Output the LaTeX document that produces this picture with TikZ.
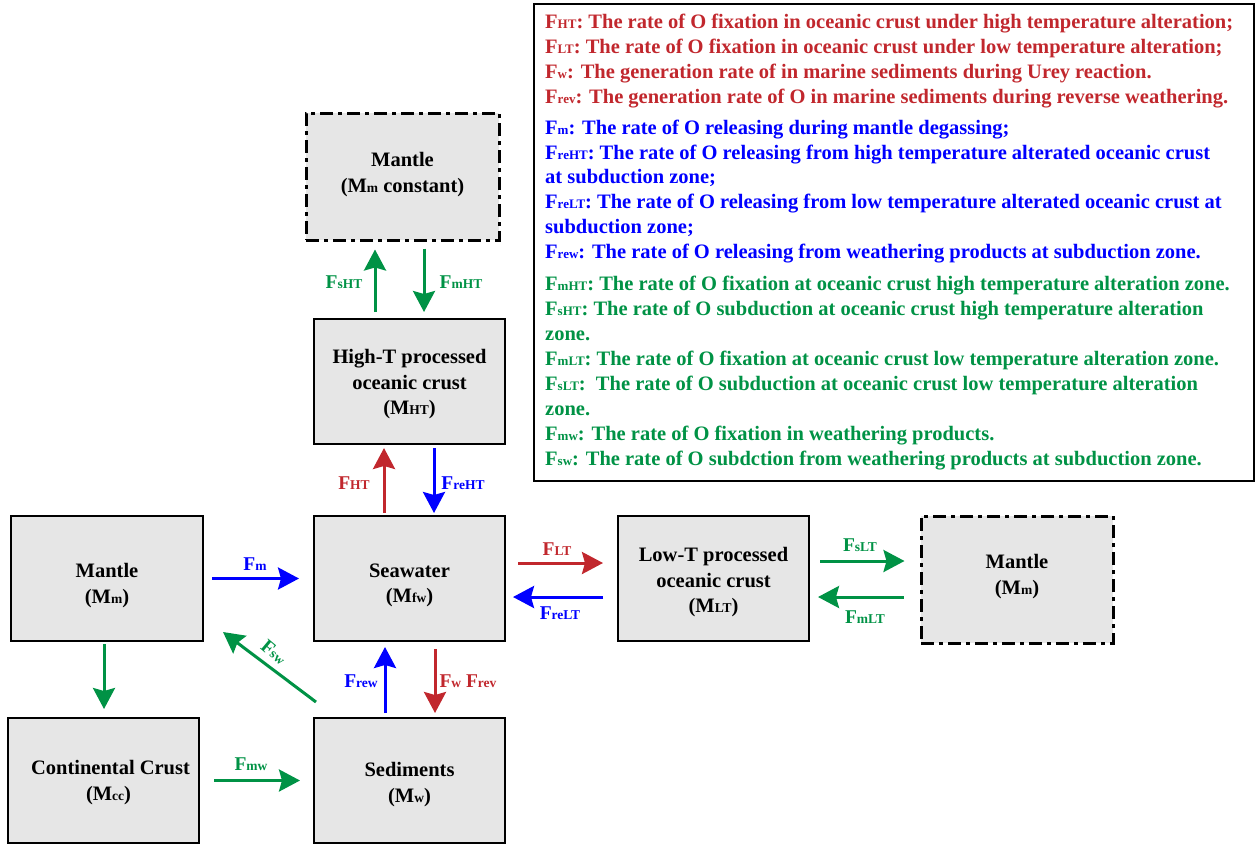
\documentclass[tikz,border=0pt]{standalone}
\usepackage{fontspec}
\setmainfont{Liberation Serif}
\usetikzlibrary{arrows.meta,calc}
\definecolor{cred}{HTML}{C1272D}
\definecolor{cblue}{HTML}{0000FF}
\definecolor{cgreen}{HTML}{009245}
\definecolor{boxgray}{HTML}{E6E6E6}
\newcommand\lo[1]{{\fontsize{13.5}{13.5}\selectfont #1}}
\newcommand\llo[1]{{\fontsize{13}{13}\selectfont #1}}
\begin{document}
\begin{tikzpicture}[x=1pt,y=-1pt,
  font=\bfseries\fontsize{20.5}{25.5}\selectfont,
  box/.style={draw=black,line width=2pt,fill=boxgray,minimum width=191pt,minimum height=125pt,inner sep=0pt},
  dbox/.style={box,line width=3pt,dash pattern=on 13pt off 5pt on 4pt off 5pt},
  btxt/.style={align=center,inner sep=0pt},
  arr/.style={line width=3pt,-{Stealth[length=21pt,width=22pt,inset=3pt]}},
  lbl/.style={inner sep=0pt,font=\bfseries\fontsize{19.5}{20}\selectfont},
  leg/.style={anchor=base west,inner sep=0pt,font=\bfseries\fontsize{20.5}{22}\selectfont}]
\useasboundingbox (0,0) rectangle (1255,847);
% legend
\node[draw=black,line width=1.5pt,minimum width=720pt,minimum height=477pt,anchor=north west,inner sep=0pt] (legend) at (533,3) {};
\begin{scope}[every node/.style={leg}]
\node[text=cred] (r1) at (545,28) {F\llo{HT}: The rate of O fixation in oceanic crust under high temperature alteration;};
\node[text=cred] (r2) at (545,53) {F\llo{LT}: The rate of O fixation in oceanic crust under low temperature alteration;};
\node[text=cred] (r3) at (545,78) {F\llo{w}: The generation rate of in marine sediments during Urey reaction.};
\node[text=cred] (r4) at (545,103) {F\llo{rev}: The generation rate of O in marine sediments during reverse weathering.};
\node[text=cblue] (b1) at (545,134) {F\llo{m}: The rate of O releasing during mantle degassing;};
\node[text=cblue] (b2) at (545,159) {F\llo{reHT}: The rate of O releasing from high temperature alterated oceanic crust};
\node[text=cblue] (b3) at (545,183) {at subduction zone;};
\node[text=cblue] (b4) at (545,208) {F\llo{reLT}: The rate of O releasing from low temperature alterated oceanic crust at};
\node[text=cblue] (b5) at (545,233) {subduction zone;};
\node[text=cblue] (b6) at (545,258) {F\llo{rew}: The rate of O releasing from weathering products at subduction zone.};
\node[text=cgreen] (g1) at (545,290) {F\llo{mHT}: The rate of O fixation at oceanic crust high temperature alteration zone.};
\node[text=cgreen] (g2) at (545,315) {F\llo{sHT}: The rate of O subduction at oceanic crust high temperature alteration};
\node[text=cgreen] (g3) at (545,340) {zone.};
\node[text=cgreen] (g4) at (545,365) {F\llo{mLT}: The rate of O fixation at oceanic crust low temperature alteration zone.};
\node[text=cgreen] (g5) at (545,390) {F\llo{sLT}:\ \ The rate of O subduction at oceanic crust low temperature alteration};
\node[text=cgreen] (g6) at (545,415) {zone.};
\node[text=cgreen] (g7) at (545,440) {F\llo{mw}: The rate of O fixation in weathering products.};
\node[text=cgreen] (g8) at (545,465) {F\llo{sw}: The rate of O subdction from weathering products at subduction zone.};
\end{scope}
% boxes
\node[dbox,minimum width=193pt,minimum height=127pt] (mt) at (402.5,176.5) {};
\node[box] (ht) at (409.5,381.5) {};
\node[box] (sw) at (409.5,578.5) {};
\node[box,minimum width=192pt] (ml) at (107,578.5) {};
\node[box] (lt) at (713.5,578.5) {};
\node[dbox,minimum width=192pt,minimum height=127pt] (mr) at (1017,579.5) {};
\node[box] (cc) at (103.5,780.5) {};
\node[box] (sd) at (409.5,780.5) {};
% box texts (shift in TikZ y: positive is up)
\node[btxt] (mtt) at ([yshift=2]mt.center) {Mantle\\(M\lo{m} constant)};
\node[btxt] (htt) at ([yshift=-3]ht.center) {High-T processed\\oceanic crust\\(M\lo{HT})};
\node[btxt] (swt) at ([yshift=-7]sw.center) {Seawater\\(M\lo{fw})};
\node[btxt] (mlt) at ([yshift=-7]ml.center) {Mantle\\(M\lo{m})};
\node[btxt] (ltt) at ([yshift=-4]lt.center) {Low-T processed\\oceanic crust\\(M\lo{LT})};
\node[btxt] (mrt) at ([yshift=3]mr.center) {Mantle\\(M\lo{m})};
\node[btxt] (cct) at ([xshift=5,yshift=-2]cc.center) {\hspace*{4pt}Continental Crust\\(M\lo{cc})};
\node[btxt] (sdt) at ([yshift=-4]sd.center) {Sediments\\(M\lo{w})};
% arrows
\draw[arr,cgreen] ([shift={(-34.5,-6)}]ht.north) -- ([shift={(-27.5,8)}]mt.south);
\draw[arr,cgreen] ([shift={(21.5,7)}]mt.south) -- ([shift={(14.5,-6)}]ht.north);
\draw[arr,cred] ([shift={(-25.5,-2)}]sw.north) -- ([shift={(-25.5,3)}]ht.south);
\draw[arr,cblue] ([shift={(24.5,3)}]ht.south) -- ([shift={(24.5,-2)}]sw.north);
\draw[arr,cblue] ([shift={(8,0)}]ml.east) -- ([shift={(-14,0)}]sw.west);
\draw[arr,cred] ([shift={(12,-15.5)}]sw.east) -- ([shift={(-14,-15.5)}]lt.west);
\draw[arr,cblue] ([shift={(-14,18.5)}]lt.west) -- ([shift={(7,18.5)}]sw.east);
\draw[arr,cgreen] ([shift={(10,-17.5)}]lt.east) -- ([shift={(-15,-18.5)}]mr.west);
\draw[arr,cgreen] ([shift={(-16,17.5)}]mr.west) -- ([shift={(8,18.5)}]lt.east);
\draw[arr,cgreen] ([shift={(-3,2)}]ml.south) -- ([shift={(0.5,-8)}]cc.north);
\draw[arr,cgreen] ([shift={(3,-15)}]sd.north west) -- ([shift={(19,-10)}]ml.south east);
\draw[arr,cblue] ([shift={(-24.5,-4)}]sd.north) -- ([shift={(-24.5,5)}]sw.south);
\draw[arr,cred] ([shift={(25.5,7)}]sw.south) -- ([shift={(25.5,-4)}]sd.north);
\draw[arr,cgreen] ([shift={(14,0)}]cc.east) -- ([shift={(-13,0)}]sd.west);
% labels
\node[lbl,text=cgreen] (lsht) at (344,282) {F\lo{sHT}};
\node[lbl,text=cgreen] (lmht) at (461,282) {F\lo{mHT}};
\node[lbl,text=cred] (lht) at (354,483) {F\lo{HT}};
\node[lbl,text=cblue] (lreht) at (463,483) {F\lo{reHT}};
\node[lbl,text=cblue] (lm) at (255,564) {F\lo{m}};
\node[lbl,text=cred] (llt) at (557,549) {F\lo{LT}};
\node[lbl,text=cblue] (lrelt) at (560,613) {F\lo{reLT}};
\node[lbl,text=cgreen] (lslt) at (860,545) {F\lo{sLT}};
\node[lbl,text=cgreen] (lmlt) at (865,617) {F\lo{mLT}};
\node[lbl,text=cgreen,rotate=-40] (lsw) at (274,652) {F\lo{sw}};
\node[lbl,text=cblue] (lrew) at (361,681) {F\lo{rew}};
\node[lbl,text=cred] (lw) at (468,681) {F\lo{w} F\lo{rev}};
\node[lbl,text=cgreen] (lmw) at (251,764) {F\lo{mw}};
\end{tikzpicture}
\end{document}
